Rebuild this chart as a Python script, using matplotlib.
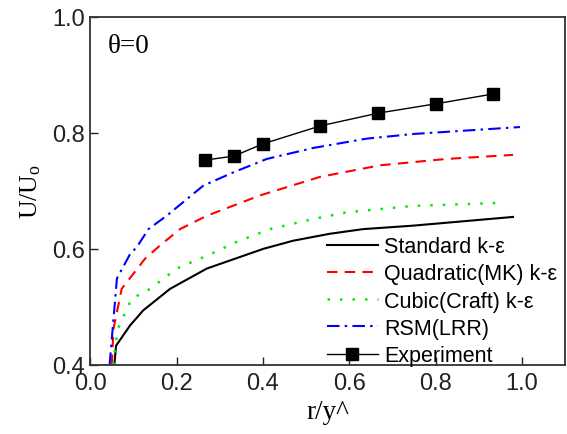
import matplotlib
matplotlib.use("Agg")
import matplotlib.pyplot as plt

plt.rcParams['font.family'] = ['Liberation Sans', 'DejaVu Sans']
plt.rcParams['mathtext.fontset'] = 'custom'
plt.rcParams['mathtext.rm'] = 'Liberation Serif'
plt.rcParams['mathtext.it'] = 'Liberation Serif:italic'

# Standard k-epsilon
std_x = [0.056, 0.060, 0.0925, 0.123, 0.185, 0.27, 0.401, 0.47, 0.555, 0.632, 0.748, 0.979]
std_y = [0.400, 0.433, 0.468, 0.494, 0.531, 0.566, 0.600, 0.614, 0.626, 0.634, 0.640, 0.655]

# Quadratic (MK) k-epsilon
quad_x = [0.050, 0.054, 0.073, 0.127, 0.162, 0.208, 0.270, 0.393, 0.532, 0.671, 0.825, 0.979]
quad_y = [0.400, 0.462, 0.531, 0.583, 0.606, 0.634, 0.657, 0.692, 0.724, 0.744, 0.755, 0.762]

# Cubic (Craft) k-epsilon
cub_x = [0.054, 0.058, 0.066, 0.096, 0.139, 0.200, 0.270, 0.339, 0.416, 0.520, 0.594, 0.748, 0.941]
cub_y = [0.400, 0.433, 0.465, 0.514, 0.531, 0.566, 0.588, 0.612, 0.634, 0.652, 0.663, 0.674, 0.679]

# RSM (LRR)
rsm_x = [0.045, 0.062, 0.0925, 0.108, 0.135, 0.177, 0.262, 0.332, 0.409, 0.517, 0.640, 0.748, 0.995]
rsm_y = [0.400, 0.549, 0.591, 0.603, 0.634, 0.657, 0.709, 0.732, 0.755, 0.774, 0.790, 0.798, 0.810]

# Experiment
exp_x = [0.267, 0.333, 0.400, 0.533, 0.667, 0.800, 0.933]
exp_y = [0.753, 0.760, 0.781, 0.812, 0.834, 0.850, 0.867]

labels = ['Standard k-\u03b5', 'Quadratic(MK) k-\u03b5', 'Cubic(Craft) k-\u03b5', 'RSM(LRR)', 'Experiment']
xticks = [0.0, 0.2, 0.4, 0.6, 0.8, 1.0]
yticks = [0.4, 0.6, 0.8, 1.0]

fig = plt.figure(figsize=(5.67, 4.35), dpi=100)
ax = fig.add_axes([0.159, 0.159, 0.838, 0.8])

ax.plot(std_x, std_y, color='black', lw=1.5, ls='-', label=labels[0])
ax.plot(quad_x, quad_y, color='#ff0000', lw=1.5, ls=(0, (5, 3.5)), label=labels[1])
ax.plot(cub_x, cub_y, color='#00ee00', lw=1.8, ls=(0, (1, 4)), label=labels[2])
ax.plot(rsm_x, rsm_y, color='#0000ff', lw=1.5, ls=(0, (6, 2.5, 1.2, 2.5)), label=labels[3])
ax.plot(exp_x, exp_y, color='black', lw=1.0, marker='s', markersize=8, label=labels[4])

ax.set_xlim(0, 1.1)
ax.set_ylim(0.4, 1.0)
ax.set_xticks(xticks)
ax.set_yticks(yticks)
ax.set_xticklabels([f'{v:.1f}' for v in xticks])
ax.set_yticklabels([f'{v:.1f}' for v in yticks])
ax.tick_params(direction='in', length=6, width=1, labelsize=17, colors='#222222')
ax.tick_params(axis='x', pad=5)
ax.tick_params(axis='y', pad=4)
for s in ax.spines.values():
    s.set_color('#333333')
    s.set_linewidth(1.3)

ax.set_xlabel('r/y^', fontfamily='Liberation Serif', fontsize=19.5, labelpad=4)
ax.set_ylabel(r'U/U$_\mathrm{o}$', fontfamily='Liberation Serif', fontsize=18.5, labelpad=6)
ax.text(0.037, 0.9, '\u03b8=0', transform=ax.transAxes, fontfamily='Liberation Serif', fontsize=19.5)

leg = ax.legend(loc='lower left', bbox_to_anchor=(0.498, -0.004), frameon=False, fontsize=15.5,
                handlelength=2.37, handletextpad=0.28, labelspacing=0.29, borderpad=0.0,
                borderaxespad=0.0)

fig.savefig('out.png', dpi=100)
